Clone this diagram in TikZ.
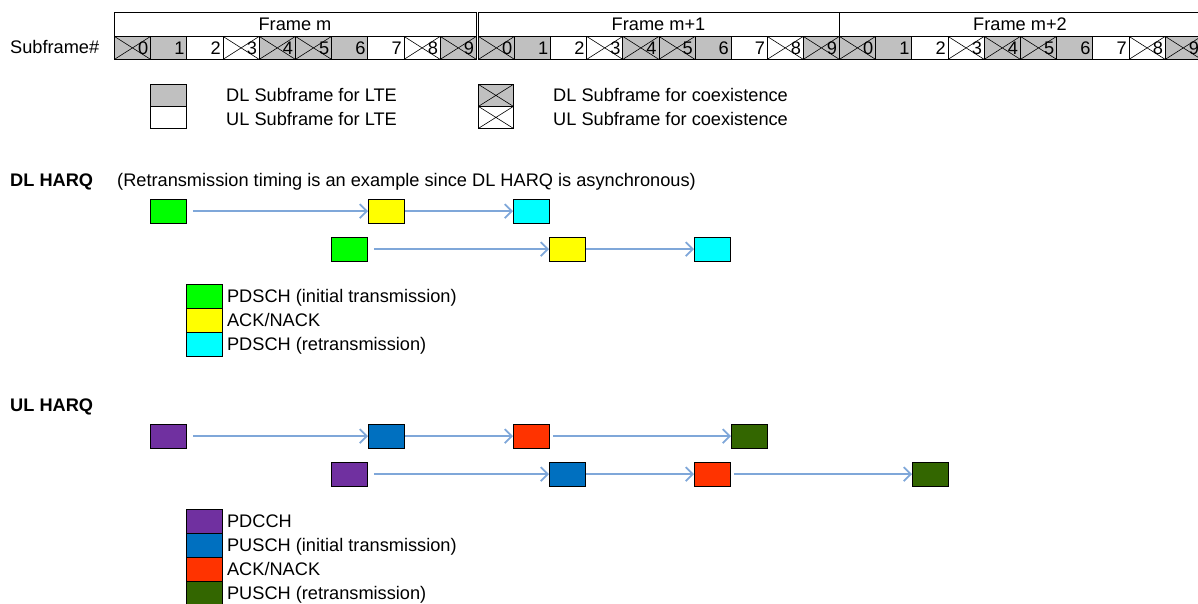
\documentclass[tikz,border=0pt]{standalone}
\usepackage{fontspec}
\setmainfont{Liberation Sans}
\usetikzlibrary{arrows.meta,positioning}

\definecolor{sfgray}{HTML}{C0C0C0}
\definecolor{pdschcol}{HTML}{00FF00}
\definecolor{ackcol}{HTML}{FFFF00}
\definecolor{retxcol}{HTML}{00FFFF}
\definecolor{pdcchcol}{HTML}{7030A0}
\definecolor{puschcol}{HTML}{0070C0}
\definecolor{ulackcol}{HTML}{FF3300}
\definecolor{puretxcol}{HTML}{336600}
\definecolor{linkblue}{HTML}{7FA7D9}

\begin{document}
\begin{tikzpicture}[x=1pt, y=-1pt,
    font=\fontsize{18.2pt}{22pt}\selectfont,
    txt/.style={anchor=west, inner sep=0pt, text height=17pt, text depth=4pt},
    dl/.style={fill=sfgray},
    ul/.style={fill=white},
    crossed/.style={path picture={
        \draw[line width=0.6pt] (path picture bounding box.south west) -- (path picture bounding box.north east)
              (path picture bounding box.north west) -- (path picture bounding box.south east);}},
    dx/.style={dl, crossed},
    ux/.style={ul, crossed},
    sfbox/.style={draw, line width=0.8pt, minimum height=23pt, inner sep=0pt, anchor=north west},
    legbox/.style={draw, line width=0.8pt, minimum width=36pt, minimum height=22pt, inner sep=0pt, anchor=north west},
    msg/.style={draw, line width=0.9pt, minimum width=36pt, minimum height=23.5pt, inner sep=0pt, anchor=north west},
    keybox/.style={draw, line width=0.9pt, minimum width=36pt, minimum height=24pt, inner sep=0pt, anchor=north west},
    keytext/.style={txt, xshift=4pt},
    link/.style={draw=linkblue, line width=1.8pt, -{Straight Barb[length=7pt, width=14pt]}}]

    \useasboundingbox (0,0) rectangle (1198,604);

    % Frames and subframes
    \node[txt] (sflabel) at (10,47) {Subframe\#};
    \foreach \f/\xa/\xb/\lab in {0/114/476/Frame m, 1/478/839/Frame m+1, 2/839/1201/Frame m+2} {
        \draw[line width=0.9pt] (\xa,12) rectangle (\xb,36);
        \node (frame\f) at ({(\xa+\xb)/2},24) {\lab};
        \foreach \s/\t in {0/dx, 1/dl, 2/ul, 3/ux, 4/dx, 5/dx, 6/dl, 7/ul, 8/ux, 9/dx} {
            \node[sfbox, \t, minimum width={(\xb-\xa)/10*1pt}] (f\f s\s) at ({\xa+(\xb-\xa)/10*\s},36) {};
            \node[anchor=east, inner sep=2.5pt] at (f\f s\s.east) {\s};
        }
    }

    % Legend of the subframe types
    \node[legbox, dl] (legdl) at (150,84) {};
    \node[legbox, ul] (legul) at (150,106) {};
    \node[txt] at (226,95) {DL Subframe for LTE};
    \node[txt] at (226,119) {UL Subframe for LTE};
    \node[legbox, dx, minimum width=35pt] (legdx) at (478,84) {};
    \node[legbox, ux, minimum width=35pt] (legux) at (478,106) {};
    \node[txt] at (553,95) {DL Subframe for coexistence};
    \node[txt] at (553,119) {UL Subframe for coexistence};

    % DL HARQ
    \node[txt, font=\fontsize{18.2pt}{22pt}\selectfont\bfseries] (dlharq) at (10,180) {DL HARQ};
    \node[txt] (dlnote) at (117,180) {(Retransmission timing is an example since DL HARQ is asynchronous)};

    \node[msg, fill=pdschcol] (dla1) at (150,199) {};
    \node[msg, fill=ackcol] (dla2) at (368,199) {};
    \node[msg, fill=retxcol] (dla3) at (513,199) {};
    \node[msg, fill=pdschcol] (dlb1) at (331,237) {};
    \node[msg, fill=ackcol] (dlb2) at (549,237) {};
    \node[msg, fill=retxcol] (dlb3) at (694,237) {};

    \draw[link, shorten <=6pt] (dla1) -- (dla2);
    \draw[link] (dla2) -- (dla3);
    \draw[link, shorten <=6pt] (dlb1) -- (dlb2);
    \draw[link] (dlb2) -- (dlb3);

    \node[keybox, fill=pdschcol] (keypdsch) at (186,284) {};
    \node[keybox, fill=ackcol] (keyack) at (186,308) {};
    \node[keybox, fill=retxcol] (keyretx) at (186,332) {};
    \node[keytext] at (keypdsch.east) {PDSCH (initial transmission)};
    \node[keytext] at (keyack.east) {ACK/NACK};
    \node[keytext] at (keyretx.east) {PDSCH (retransmission)};

    % UL HARQ
    \node[txt, font=\fontsize{18.2pt}{22pt}\selectfont\bfseries] (ulharq) at (10,405) {UL HARQ};

    \node[msg, fill=pdcchcol] (ula1) at (150,424) {};
    \node[msg, fill=puschcol] (ula2) at (368,424) {};
    \node[msg, fill=ulackcol] (ula3) at (513,424) {};
    \node[msg, fill=puretxcol] (ula4) at (731,424) {};
    \node[msg, fill=pdcchcol] (ulb1) at (331,462) {};
    \node[msg, fill=puschcol] (ulb2) at (549,462) {};
    \node[msg, fill=ulackcol] (ulb3) at (694,462) {};
    \node[msg, fill=puretxcol] (ulb4) at (912,462) {};

    \draw[link, shorten <=6pt] (ula1) -- (ula2);
    \draw[link] (ula2) -- (ula3);
    \draw[link, shorten <=3pt] (ula3) -- (ula4);
    \draw[link, shorten <=6pt] (ulb1) -- (ulb2);
    \draw[link] (ulb2) -- (ulb3);
    \draw[link, shorten <=3pt] (ulb3) -- (ulb4);

    \node[keybox, fill=pdcchcol] (keypdcch) at (186,509) {};
    \node[keybox, fill=puschcol] (keypusch) at (186,533) {};
    \node[keybox, fill=ulackcol] (keyulack) at (186,557) {};
    \node[keybox, fill=puretxcol] (keypuretx) at (186,581) {};
    \node[keytext] at (keypdcch.east) {PDCCH};
    \node[keytext] at (keypusch.east) {PUSCH (initial transmission)};
    \node[keytext] at (keyulack.east) {ACK/NACK};
    \node[keytext] at (keypuretx.east) {PUSCH (retransmission)};

\end{tikzpicture}
\end{document}
